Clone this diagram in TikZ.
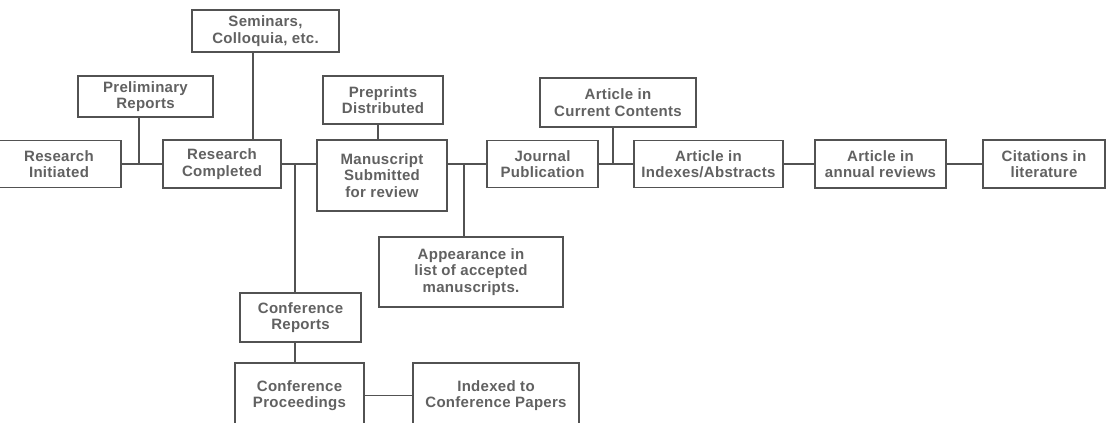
\documentclass[tikz,border=0pt]{standalone}
\usepackage{fontspec}
\setmainfont{Liberation Sans}[LetterSpace=2]
\begin{document}
\begin{tikzpicture}[x=1pt,y=-1pt,
  box/.style={draw=black!68, line width=1.3pt, fill=white, inner sep=0pt,
    align=center, text=black!62, font=\fontsize{15}{16.3}\selectfont\bfseries},
  link/.style={draw=black!68, line width=1.5pt}]
\useasboundingbox (0,0) rectangle (1117,423);
\clip (0,0) rectangle (1117,423);
\fill[white] (0,0) rectangle (1117,423);
% nodes
\node[box, minimum width=147pt, minimum height=42pt] (sem) at (265.5,31) {Seminars,\\Colloquia, etc.};
\node[box, minimum width=135pt, minimum height=41pt] (prelim) at (145.5,96.5) {Preliminary\\Reports};
\node[box, minimum width=124pt, minimum height=47pt] (ri) at (59,164) {Research\\Initiated};
\node[box, minimum width=118pt, minimum height=48pt] (rc) at (222,164) {Research\\Completed};
\node[box, minimum width=120pt, minimum height=48pt] (pre) at (383,100) {Preprints\\Distributed};
\node[box, minimum width=130pt, minimum height=71pt] (ms) at (382,175.5) {Manuscript\\Submitted\\for review};
\node[box, minimum width=111pt, minimum height=47pt] (jp) at (542.5,164) {Journal\\Publication};
\node[box, minimum width=156pt, minimum height=49pt] (cc) at (618,102.5) {Article in\\Current Contents};
\node[box, minimum width=149pt, minimum height=47pt] (ia) at (708.5,164) {Article in\\Indexes/Abstracts};
\node[box, minimum width=131pt, minimum height=48pt] (ar) at (880.5,164) {Article in\\annual reviews};
\node[box, minimum width=122pt, minimum height=48pt] (cit) at (1044,164) {Citations in\\literature};
\node[box, minimum width=184pt, minimum height=70pt] (app) at (471,272) {Appearance in\\list of accepted\\manuscripts.};
\node[box, minimum width=121pt, minimum height=49pt] (cr) at (300.5,317.5) {Conference\\Reports};
\node[box, minimum width=129pt, minimum height=65pt] (cp) at (299.5,395.5) {Conference\\Proceedings};
\node[box, minimum width=166pt, minimum height=65pt] (idx) at (496,395.5) {Indexed to\\Conference Papers};
% junction coordinates
\coordinate (jprelim) at (139,164);
\coordinate (jsem) at (253,164);
\coordinate (jconf) at (295,164);
\coordinate (jpre) at (378,164);
\coordinate (japp) at (464,164);
\coordinate (jcc) at (613,164);
% connectors
\draw[link] (ri.east) -- (rc.west);
\draw[link] (jprelim) -- (jprelim |- prelim.south);
\draw[link] (jsem |- rc.north) -- (jsem |- sem.south);
\draw[link] (rc.east) -- (rc.east -| ms.west);
\draw[link] (jconf) -- (jconf |- cr.north);
\draw[link] (jconf |- cr.south) -- (jconf |- cp.north);
\draw[link] (cp.east) -- (idx.west);
\draw[link] (jpre |- ms.north) -- (jpre |- pre.south);
\draw[link] (jp.west -| ms.east) -- (jp.west);
\draw[link] (japp) -- (japp |- app.north);
\draw[link] (jp.east) -- (ia.west);
\draw[link] (jcc) -- (jcc |- cc.south);
\draw[link] (ia.east) -- (ar.west);
\draw[link] (ar.east) -- (cit.west);
\end{tikzpicture}
\end{document}
